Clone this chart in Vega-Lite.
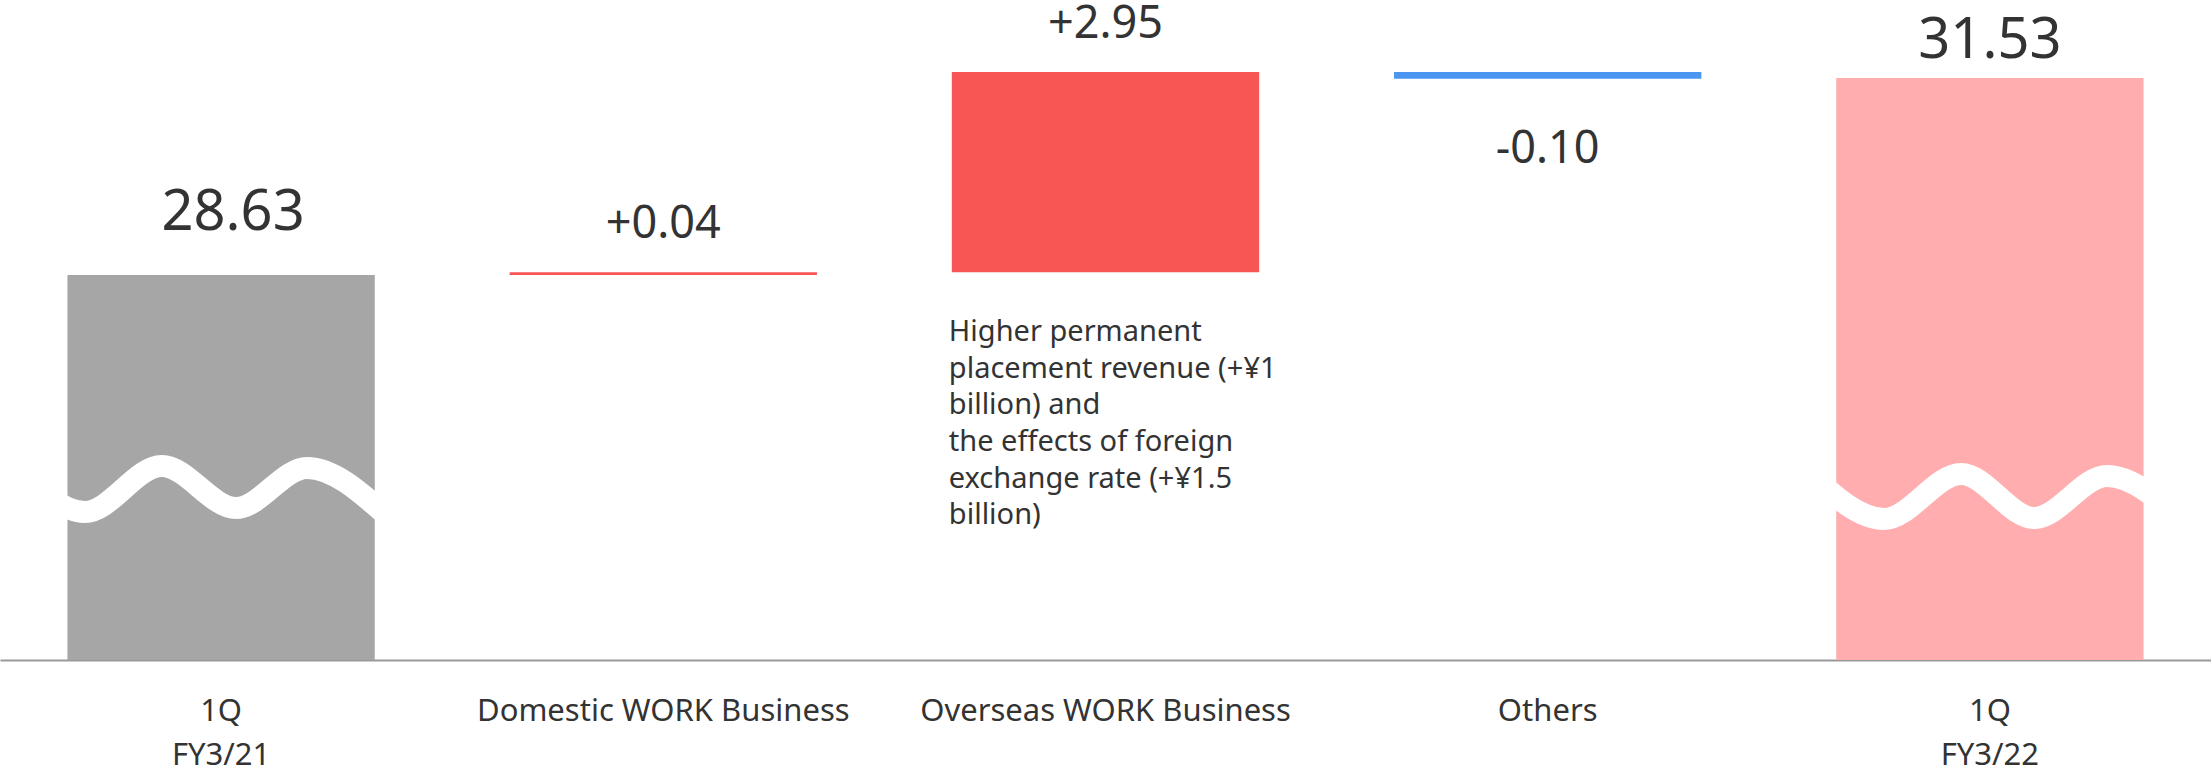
{
  "$schema": "https://vega.github.io/schema/vega-lite/v6.json",
  "width": 2211,
  "height": 660,
  "autosize": {"type": "none"},
  "padding": {"left": 0, "top": 0, "right": 0, "bottom": 112},
  "background": "white",
  "config": {"view": {"stroke": null}, "font": "Noto Sans"},
  "datasets": {
    "bars": [
      {"category": "1Q\nFY3/21", "type": "start total", "start": 0, "end": 28.63, "label": "28.63"},
      {"category": "Domestic WORK Business", "type": "increase", "start": 28.63, "end": 28.67, "label": "+0.04"},
      {"category": "Overseas WORK Business", "type": "increase", "start": 28.67, "end": 31.62, "label": "+2.95", "note": "Higher permanent\nplacement revenue (+¥1\nbillion) and\nthe effects of foreign\nexchange rate (+¥1.5\nbillion)"},
      {"category": "Others", "type": "decrease", "start": 31.62, "end": 31.52, "label": "-0.10"},
      {"category": "1Q\nFY3/22", "type": "end total", "start": 0, "end": 31.53, "label": "31.53"}
    ],
    "waves": [
      {"wave": "left", "wx": -0.466, "wy": 25.817},
      {"wave": "left", "wx": -0.308, "wy": 25.14},
      {"wave": "left", "wx": -0.134, "wy": 25.817},
      {"wave": "left", "wx": 0.034, "wy": 25.199},
      {"wave": "left", "wx": 0.194, "wy": 25.788},
      {"wave": "left", "wx": 0.371, "wy": 25.11},
      {"wave": "right", "wx": 3.593, "wy": 25.70},
      {"wave": "right", "wx": 3.761, "wy": 25.037},
      {"wave": "right", "wx": 3.935, "wy": 25.70},
      {"wave": "right", "wx": 4.100, "wy": 25.052},
      {"wave": "right", "wx": 4.265, "wy": 25.670},
      {"wave": "right", "wx": 4.430, "wy": 25.037}
    ]
  },
  "resolve": {"scale": {"x": "independent"}},
  "layer": [
    {
      "data": {"name": "bars"},
      "layer": [
        {
          "mark": {"type": "bar"},
          "encoding": {
            "x": {
              "field": "category", "type": "nominal", "sort": null,
              "scale": {"paddingInner": 0.305, "paddingOuter": 0.1525},
              "axis": {
                "title": null, "labelExpr": "split(datum.label, '\\n')",
                "labelFontSize": 31, "labelColor": "#333333", "labelFont": "Noto Sans",
                "labelPadding": 36, "labelLineHeight": 44, "ticks": false, "tickSize": 0,
                "domainColor": "#999999", "domainWidth": 2, "labelAngle": 0, "grid": false,
                "labelBaseline": "top", "labelLimit": 1000, "labelOverlap": false
              }
            },
            "y": {"field": "start", "type": "quantitative", "scale": {"domain": [22.96, 32.68], "clamp": true, "nice": false, "zero": false}, "axis": null},
            "y2": {"field": "end"},
            "color": {
              "field": "type", "type": "nominal",
              "scale": {"domain": ["start total", "increase", "decrease", "end total"], "range": ["#A6A6A6", "#F85555", "#4A96F0", "#FFADAF"]},
              "legend": null
            }
          }
        },
        {
          "transform": [{"filter": "datum.type == 'start total'"}],
          "mark": {"type": "text", "baseline": "alphabetic", "align": "center", "dx": 12, "dy": -45, "fontSize": 56, "color": "#333333", "font": "Noto Sans"},
          "encoding": {
            "x": {"field": "category", "type": "nominal", "sort": null},
            "y": {"field": "end", "type": "quantitative", "scale": {"domain": [22.96, 32.68], "clamp": true, "nice": false, "zero": false}, "axis": null},
            "text": {"field": "label"}
          }
        },
        {
          "transform": [{"filter": "datum.type == 'end total'"}],
          "mark": {"type": "text", "baseline": "alphabetic", "align": "center", "dy": -20, "fontSize": 56, "color": "#333333", "font": "Noto Sans"},
          "encoding": {
            "x": {"field": "category", "type": "nominal", "sort": null},
            "y": {"field": "end", "type": "quantitative", "scale": {"domain": [22.96, 32.68], "clamp": true, "nice": false, "zero": false}, "axis": null},
            "text": {"field": "label"}
          }
        },
        {
          "transform": [{"filter": "datum.type == 'increase'"}],
          "mark": {"type": "text", "baseline": "alphabetic", "align": "center", "dy": -34, "fontSize": 45, "color": "#333333", "font": "Noto Sans"},
          "encoding": {
            "x": {"field": "category", "type": "nominal", "sort": null},
            "y": {"field": "end", "type": "quantitative", "scale": {"domain": [22.96, 32.68], "clamp": true, "nice": false, "zero": false}, "axis": null},
            "text": {"field": "label"}
          }
        },
        {
          "transform": [{"filter": "datum.type == 'decrease'"}],
          "mark": {"type": "text", "baseline": "top", "align": "center", "dy": 48, "fontSize": 45, "color": "#333333", "font": "Noto Sans"},
          "encoding": {
            "x": {"field": "category", "type": "nominal", "sort": null},
            "y": {"field": "end", "type": "quantitative", "scale": {"domain": [22.96, 32.68], "clamp": true, "nice": false, "zero": false}, "axis": null},
            "text": {"field": "label"}
          }
        },
        {
          "transform": [{"filter": "isValid(datum.note)"}],
          "mark": {"type": "text", "baseline": "top", "align": "left", "dx": -3, "dy": 46, "fontSize": 29, "lineHeight": 36.6, "lineBreak": "\n", "color": "#333333", "font": "Noto Sans"},
          "encoding": {
            "x": {"field": "category", "type": "nominal", "sort": null, "bandPosition": 0},
            "y": {"field": "start", "type": "quantitative", "scale": {"domain": [22.96, 32.68], "clamp": true, "nice": false, "zero": false}, "axis": null},
            "text": {"field": "note"}
          }
        }
      ]
    },
    {
      "data": {"name": "waves"},
      "mark": {"type": "line", "stroke": "white", "color": "white", "strokeWidth": 22, "interpolate": "monotone", "strokeCap": "butt"},
      "encoding": {
        "x": {"field": "wx", "type": "quantitative", "scale": {"domain": [-0.5, 4.5], "nice": false, "zero": false}, "axis": null},
        "y": {"field": "wy", "type": "quantitative", "scale": {"domain": [22.96, 32.68], "clamp": true, "nice": false, "zero": false}, "axis": null},
        "detail": {"field": "wave", "type": "nominal"},
        "order": {"field": "wx", "type": "quantitative"}
      }
    }
  ]
}
